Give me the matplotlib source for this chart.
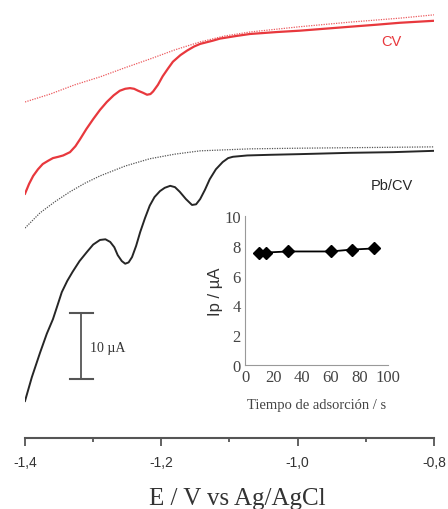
import matplotlib
matplotlib.use('Agg')
import matplotlib.pyplot as plt

# main voltammograms: potential (V) and current (uA, arbitrary offset)
e_cv = [-1.400, -1.394, -1.388, -1.381, -1.374, -1.366, -1.359, -1.351, -1.344, -1.334,
        -1.326, -1.319, -1.310, -1.300, -1.290, -1.280, -1.270, -1.261, -1.253, -1.246,
        -1.240, -1.234, -1.227, -1.221, -1.216, -1.212, -1.205, -1.198, -1.190, -1.183,
        -1.172, -1.162, -1.152, -1.143, -1.124, -1.114, -1.090, -1.070, -1.030, -0.997,
        -0.960, -0.923, -0.885, -0.850, -0.800]
i_cv = [37.0, 38.5, 39.7, 40.7, 41.5, 42.0, 42.4, 42.6, 42.8, 43.3,
        44.2, 45.3, 46.8, 48.3, 49.7, 50.9, 51.9, 52.6, 52.9, 53.0,
        52.9, 52.6, 52.3, 52.0, 52.1, 52.5, 53.5, 54.8, 56.0, 57.0,
        58.0, 58.7, 59.3, 59.7, 60.2, 60.5, 60.9, 61.2, 61.5, 61.7,
        62.0, 62.3, 62.6, 62.9, 63.2]

e_cv_blank = [-1.400, -1.363, -1.327, -1.290, -1.253, -1.217, -1.180, -1.143, -1.107,
              -1.070, -0.997, -0.923, -0.850, -0.800]
i_cv_blank = [50.9, 52.1, 53.5, 54.7, 56.1, 57.4, 58.8, 60.0, 60.9,
              61.5, 62.3, 63.0, 63.6, 64.1]

e_pb = [-1.400, -1.390, -1.378, -1.368, -1.359, -1.352, -1.346, -1.338, -1.330, -1.320,
        -1.309, -1.300, -1.290, -1.282, -1.275, -1.269, -1.264, -1.258, -1.253, -1.248,
        -1.243, -1.237, -1.231, -1.224, -1.217, -1.210, -1.202, -1.195, -1.187, -1.180,
        -1.173, -1.164, -1.155, -1.149, -1.143, -1.136, -1.129, -1.120, -1.110, -1.102,
        -1.095, -1.074, -1.040, -0.997, -0.923, -0.860, -0.800]
i_pb = [5.6, 9.2, 12.9, 15.8, 18.0, 20.2, 22.1, 23.8, 25.2, 26.8,
        28.2, 29.3, 30.0, 30.1, 29.7, 28.9, 27.7, 26.8, 26.4, 26.6,
        27.4, 29.1, 31.2, 33.3, 35.2, 36.5, 37.4, 37.9, 38.2, 38.0,
        37.3, 36.2, 35.3, 35.4, 36.2, 37.6, 39.2, 40.7, 41.8, 42.4,
        42.6, 42.8, 42.9, 43.0, 43.2, 43.3, 43.5]

e_pb_blank = [-1.400, -1.378, -1.356, -1.334, -1.312, -1.290, -1.253, -1.217, -1.180,
              -1.143, -1.070, -0.997, -0.800]
i_pb_blank = [31.8, 34.1, 35.8, 37.3, 38.6, 39.7, 41.2, 42.3, 43.0,
              43.5, 43.8, 43.9, 44.1]

# inset: peak current vs adsorption time
t_ads = [10, 15, 30, 60, 75, 90]
ip = [7.55, 7.55, 7.62, 7.62, 7.75, 7.82]

xticks = [-1.4, -1.2, -1.0, -0.8]
xticklabels = ['-1,4', '-1,2', '-1,0', '-0,8']

red = '#e8383d'
dark = '#262626'
grey = '#555555'

fig = plt.figure(figsize=(4.48, 5.10), dpi=100)
ax = fig.add_axes([25/448, 71/510, 409/448, 439/510])

ax.plot(e_cv_blank, i_cv_blank, color='#ec5a5e', lw=0.9, ls=(0, (1, 1)))
ax.plot(e_cv, i_cv, color=red, lw=1.6)
ax.plot(e_pb_blank, i_pb_blank, color='#555555', lw=0.9, ls=(0, (1, 1)))
ax.plot(e_pb, i_pb, color=dark, lw=1.4)

ax.set_xlim(-1.4, -0.8)
ax.set_ylim(0, 66.5)
for s in ['left', 'right', 'top']:
    ax.spines[s].set_visible(False)
ax.spines['bottom'].set_color(grey)
ax.spines['bottom'].set_linewidth(1.5)
ax.set_yticks([])
ax.set_xticks(xticks)
ax.set_xticklabels(xticklabels, fontsize=10, color='#333333', family='Liberation Sans')
ax.set_xticks([-1.3, -1.1, -0.9], minor=True)
ax.tick_params(axis='x', which='major', length=6, width=1.3, color=grey, pad=6)
ax.tick_params(axis='x', which='minor', length=3, width=1.3, color=grey)
fig.text(237/448, 5/510, 'E / V vs Ag/AgCl', fontsize=18, family='Liberation Serif',
         color='#333333', ha='center', va='baseline')

# scale bar 10 uA
ax.plot([-1.318, -1.318], [8.9, 18.9], color=grey, lw=1.3)
ax.plot([-1.334, -1.300], [18.9, 18.9], color=grey, lw=1.5)
ax.plot([-1.334, -1.300], [8.9, 8.9], color=grey, lw=1.5)
ax.text(-1.304, 13.7, '10 µA', fontsize=10, family='Liberation Serif', color='#333333', va='center', ha='left')

ax.text(-0.862, 60.2, 'CV', color=red, fontsize=10.5, family='Liberation Sans', ha='center', va='center')
ax.text(-0.862, 38.3, 'Pb/CV', color=dark, fontsize=10.5, family='Liberation Sans', ha='center', va='center')

# inset
ins = fig.add_axes([245/448, (510-366)/510, 143/448, 149/510])
ins.patch.set_alpha(0)
ins.plot(t_ads, ip, color='black', lw=1.3, marker='D', ms=6.5, mfc='black', mec='black')
ins.set_xlim(0, 100)
ins.set_ylim(0, 10)
ins.set_xticks([0, 20, 40, 60, 80, 100])
ins.set_yticks([0, 2, 4, 6, 8, 10])
for s in ['right', 'top']:
    ins.spines[s].set_visible(False)
for s in ['left', 'bottom']:
    ins.spines[s].set_color('#999999')
    ins.spines[s].set_linewidth(0.8)
ins.tick_params(length=0, pad=3, labelsize=12, labelcolor='#444444')
for lab in ins.get_xticklabels() + ins.get_yticklabels():
    lab.set_family('Liberation Serif')
ins.set_xlabel('Tiempo de adsorción / s', fontsize=10.5, family='Liberation Serif', color='#444444', labelpad=9)
ins.set_ylabel('Ip / µA', fontsize=12, family='Liberation Sans', color='#333333', labelpad=1)

fig.savefig('out.png', dpi=100)
